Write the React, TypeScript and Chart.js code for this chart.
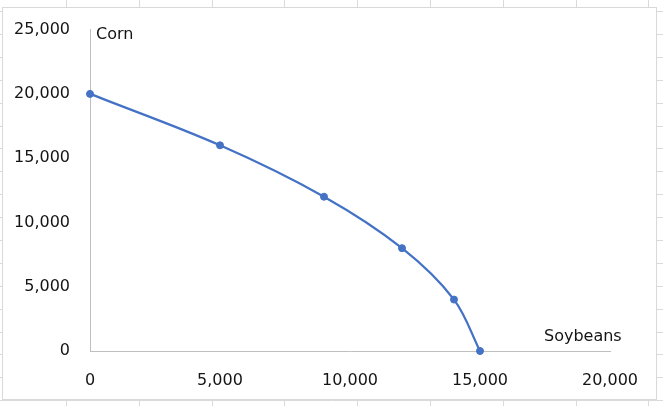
import React, { useEffect, useRef } from "react";
import { Chart, registerables } from "chart.js";

Chart.register(...registerables);

const soybeans = [0, 5000, 9000, 12000, 14000, 15000];
const corn = [20000, 16000, 12000, 8000, 4000, 0];
const xTicks = [0, 5000, 10000, 15000, 20000];
const yTicks = [0, 5000, 10000, 15000, 20000, 25000];
const xTitle = "Soybeans";
const yTitle = "Corn";

const FONT = "DejaVu Sans";
const TEXT = "#141414";
const AXIS = "#bfbfbf";
const BLUE = "#4472C4";

const fmt = (v: number) => v.toLocaleString("en-US");

const sheetPlugin = {
  id: "sheet",
  beforeDraw(chart: any) {
    const { ctx, width, height } = chart;
    ctx.save();
    ctx.fillStyle = "#ffffff";
    ctx.fillRect(0, 0, width, height);
    ctx.strokeStyle = "#dadada";
    ctx.lineWidth = 1;
    // spreadsheet cell lines
    for (let x = 66; x < width; x += 72.8) {
      ctx.beginPath();
      ctx.moveTo(Math.round(x) + 0.5, 0);
      ctx.lineTo(Math.round(x) + 0.5, height);
      ctx.stroke();
    }
    for (let y = 11; y < height; y += 22.9) {
      ctx.beginPath();
      ctx.moveTo(0, Math.round(y) + 0.5);
      ctx.lineTo(width, Math.round(y) + 0.5);
      ctx.stroke();
    }
    // chart box
    ctx.fillStyle = "#ffffff";
    ctx.fillRect(2, 7, 654, 392);
    ctx.strokeStyle = "#d9d9d9";
    ctx.strokeRect(2.5, 7.5, 654, 392);
    ctx.restore();
  },
  afterDraw(chart: any) {
    const { ctx, chartArea } = chart;
    ctx.save();
    ctx.fillStyle = TEXT;
    ctx.font = `16px "${FONT}"`;
    ctx.textBaseline = "middle";
    ctx.textAlign = "left";
    ctx.fillText(yTitle, chartArea.left + 6, chartArea.top + 5);
    ctx.fillText(xTitle, chartArea.right - 66, chartArea.bottom - 14);
    ctx.restore();
  },
};

export default function App() {
  const ref = useRef<HTMLCanvasElement>(null);
  useEffect(() => {
    document.body.style.margin = "0";
    const chart = new Chart(ref.current!, {
      type: "scatter",
      data: {
        datasets: [
          {
            data: soybeans.map((x, i) => ({ x, y: corn[i] })),
            showLine: true,
            borderColor: BLUE,
            backgroundColor: BLUE,
            borderWidth: 2.25,
            pointRadius: 3.5,
            pointHoverRadius: 3.5,
            pointBorderWidth: 1,
            tension: 0.35,
            clip: false,
          } as any,
        ],
      },
      options: {
        responsive: false,
        animation: false,
        layout: { padding: { left: 0, top: 27, right: 53, bottom: 0 } },
        plugins: { legend: { display: false }, tooltip: { enabled: false } },
        scales: {
          x: {
            type: "linear",
            min: 0,
            max: 20000,
            afterBuildTicks: (s: any) => {
              s.ticks = xTicks.map((v) => ({ value: v }));
            },
            afterFit: (s: any) => {
              s.height = 55;
            },
            grid: { display: false, drawTicks: false },
            border: { display: true, color: AXIS, width: 1 },
            ticks: {
              padding: 20,
              color: TEXT,
              font: { family: FONT, size: 16 },
              maxRotation: 0,
              callback: (v: any) => fmt(Number(v)),
            },
          },
          y: {
            type: "linear",
            min: 0,
            max: 25000,
            afterBuildTicks: (s: any) => {
              s.ticks = yTicks.map((v) => ({ value: v }));
            },
            afterFit: (s: any) => {
              s.width = 90;
            },
            grid: { display: false, drawTicks: false },
            border: { display: true, color: AXIS, width: 1 },
            ticks: {
              padding: 20,
              color: TEXT,
              font: { family: FONT, size: 16 },
              callback: (v: any) => fmt(Number(v)),
            },
          },
        },
      },
      plugins: [sheetPlugin],
    });
    return () => chart.destroy();
  }, []);
  return (
    <div style={{ position: "absolute", left: 0, top: 0, width: 663, height: 406 }}>
      <canvas ref={ref} width={663} height={406} style={{ display: "block", width: 663, height: 406 }} />
    </div>
  );
}
